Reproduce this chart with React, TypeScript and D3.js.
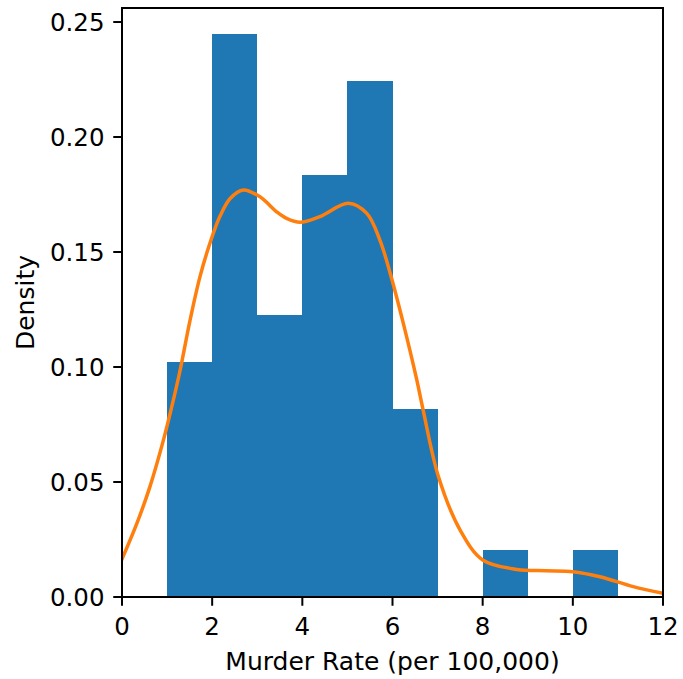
import React from "react";
import * as d3 from "d3";

const binEdges = [1, 2, 3, 4, 5, 6, 7, 8, 9, 10, 11];
const binDensity = [0.102, 0.245, 0.1224, 0.1837, 0.2245, 0.0816, 0, 0.0204, 0, 0.0204];

const kdeX = [0, 0.33, 0.62, 0.92, 1.14, 1.29, 1.51, 1.73, 1.95, 2.17, 2.4, 2.69, 3.06, 3.43, 3.65, 3.95, 4.39, 5.02, 5.43, 5.72, 5.95, 6.24, 6.54, 6.68, 7.02, 7.5, 8.0, 8.76, 9.4, 10.0, 10.6, 11.34, 12.0];
const kdeY = [0.0165, 0.032, 0.048, 0.0683, 0.0857, 0.0987, 0.1204, 0.1393, 0.1538, 0.1654, 0.1733, 0.177, 0.174, 0.1675, 0.1646, 0.1629, 0.1654, 0.1712, 0.1668, 0.1552, 0.1407, 0.119, 0.0943, 0.0813, 0.0523, 0.0291, 0.0161, 0.012, 0.0114, 0.011, 0.0088, 0.0045, 0.0016];

const xTicks = [0, 2, 4, 6, 8, 10, 12];
const yTicks = [0, 0.05, 0.1, 0.15, 0.2, 0.25];
const xLabel = "Murder Rate (per 100,000)";
const yLabel = "Density";

export default function App() {
  const W = 683, H = 679;
  const left = 122, right = 663, top = 8, bottom = 597;
  const x = d3.scaleLinear().domain([0, 12]).range([left, right]);
  const y = d3.scaleLinear().domain([0, 0.2561]).range([bottom, top]);
  const line = d3
    .line<number>()
    .x((_, i) => x(kdeX[i]))
    .y((d) => y(d))
    .curve(d3.curveCatmullRom.alpha(0.5));
  const font = "DejaVu Sans, sans-serif";
  const fs = 24.5;
  const labelFs = 25;
  const tickLen = 8.75;
  return (
    <svg width={W} height={H} style={{ position: "absolute", left: 0, top: 0, background: "#fff" }}>
      <rect x={0} y={0} width={W} height={H} fill="#fff" />
      <g shapeRendering="crispEdges">
        {binDensity.map((d, i) =>
          d > 0 ? (
            <rect
              key={i}
              x={x(binEdges[i])}
              y={y(d)}
              width={x(binEdges[i + 1]) - x(binEdges[i])}
              height={y(0) - y(d)}
              fill="#1f77b4"
            />
          ) : null
        )}
      </g>
      <defs>
        <clipPath id="clip">
          <rect x={left} y={top} width={right - left} height={bottom - top} />
        </clipPath>
      </defs>
      <path d={line(kdeY) || ""} fill="none" stroke="#ff7f0e" strokeWidth={3.5} strokeLinecap="square" clipPath="url(#clip)" />
      <rect x={left} y={top} width={right - left} height={bottom - top} fill="none" stroke="#000" strokeWidth={2} />
      {xTicks.map((t) => (
        <g key={t}>
          <line x1={x(t)} x2={x(t)} y1={bottom} y2={bottom + tickLen} stroke="#000" strokeWidth={2} />
          <text x={x(t)} y={634.5} textAnchor="middle" fontFamily={font} fontSize={fs} fill="#000">
            {t}
          </text>
        </g>
      ))}
      {yTicks.map((t) => (
        <g key={t}>
          <line x1={left - tickLen} x2={left} y1={y(t)} y2={y(t)} stroke="#000" strokeWidth={2} />
          <text x={left - 2 * tickLen} y={y(t)} dy="0.365em" textAnchor="end" fontFamily={font} fontSize={fs} fill="#000">
            {t.toFixed(2)}
          </text>
        </g>
      ))}
      <text x={(left + right) / 2} y={670} textAnchor="middle" fontFamily={font} fontSize={labelFs} fill="#000">
        {xLabel}
      </text>
      <text
        transform={`translate(34,${(top + bottom) / 2}) rotate(-90)`}
        textAnchor="middle"
        fontFamily={font}
        fontSize={labelFs}
        fill="#000"
      >
        {yLabel}
      </text>
    </svg>
  );
}
